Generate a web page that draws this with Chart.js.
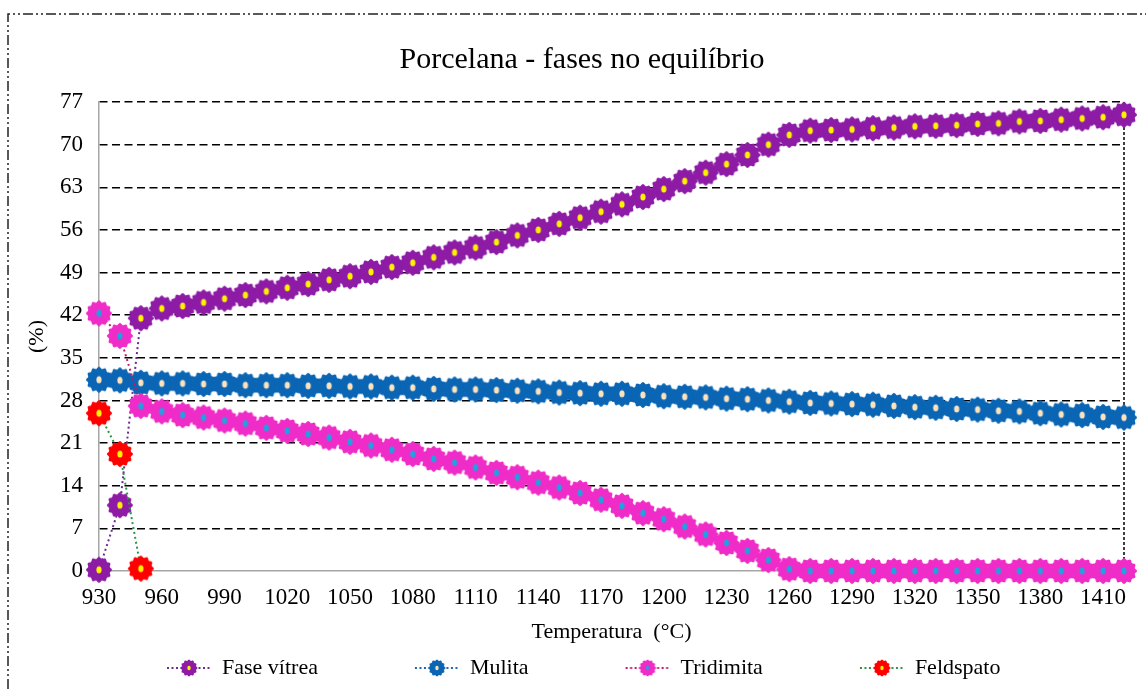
<!DOCTYPE html>
<html>
<head>
<meta charset="utf-8">
<title>Porcelana - fases no equilíbrio</title>
<script src="https://cdn.jsdelivr.net/npm/chart.js@4.4.1/dist/chart.umd.min.js"></script>
<style>
    html, body { margin: 0; padding: 0; background: #fff; }
    #wrap { width: 1146px; height: 689px; }
</style>
</head>
<body>
<div id="wrap"><canvas id="phaseChart" width="1146" height="689"></canvas></div>
<script>
// Porcelana - fases no equilíbrio

const temperatures = [930, 940, 950, 960, 970, 980, 990, 1000, 1010, 1020,
    1030, 1040, 1050, 1060, 1070, 1080, 1090, 1100, 1110, 1120,
    1130, 1140, 1150, 1160, 1170, 1180, 1190, 1200, 1210, 1220,
    1230, 1240, 1250, 1260, 1270, 1280, 1290, 1300, 1310, 1320,
    1330, 1340, 1350, 1360, 1370, 1380, 1390, 1400, 1410, 1420];

const faseVitrea = [0.2, 10.8, 41.5, 43.1, 43.5, 44.1, 44.7, 45.3, 45.9, 46.5,
    47.1, 47.8, 48.4, 49.1, 49.9, 50.6, 51.5, 52.3, 53.1, 54.0,
    55.1, 56.0, 57.0, 58.0, 59.0, 60.2, 61.4, 62.7, 64.0, 65.4,
    66.8, 68.3, 70.0, 71.6, 72.3, 72.4, 72.5, 72.7, 72.8, 73.0,
    73.1, 73.2, 73.4, 73.5, 73.8, 73.9, 74.1, 74.3, 74.5, 74.9];

const mulita = [31.4, 31.3, 30.9, 30.8, 30.8, 30.7, 30.7, 30.5, 30.5, 30.5,
    30.4, 30.4, 30.3, 30.3, 30.1, 30.1, 29.9, 29.8, 29.8, 29.7,
    29.6, 29.5, 29.3, 29.2, 29.1, 29.1, 28.9, 28.7, 28.6, 28.5,
    28.3, 28.2, 28.0, 27.8, 27.6, 27.5, 27.4, 27.3, 27.1, 26.9,
    26.8, 26.6, 26.5, 26.3, 26.2, 25.9, 25.7, 25.6, 25.3, 25.2];

const tridimita = [42.3, 38.6, 27.1, 26.2, 25.6, 25.2, 24.7, 24.2, 23.5, 23.0,
    22.5, 21.9, 21.2, 20.6, 19.9, 19.2, 18.4, 17.8, 17.0, 16.1,
    15.4, 14.5, 13.7, 12.8, 11.7, 10.7, 9.5, 8.5, 7.3, 6.0,
    4.6, 3.3, 1.8, 0.3, 0, 0, 0, 0, 0, 0,
    0, 0, 0, 0, 0, 0, 0, 0, 0, 0];

const feldspato = [25.9, 19.2, 0.4];

const xTickValues = [930, 960, 990, 1020, 1050, 1080, 1110, 1140, 1170, 1200,
    1230, 1260, 1290, 1320, 1350, 1380, 1410];
const yTickValues = [0, 7, 14, 21, 28, 35, 42, 49, 56, 63, 70, 77];

const seriesNames = ['Fase vítrea', 'Mulita', 'Tridimita', 'Feldspato'];

// marker styles: fill, centre dot, dotted line colour
const styles = [
    { fill: '#8E1BA6', dot: '#FFF200', line: '#6A2C93' },
    { fill: '#0A66B4', dot: '#FDE2BE', line: '#1D62AE' },
    { fill: '#F02CC8', dot: '#1CA3E0', line: '#C4166A' },
    { fill: '#FF0000', dot: '#FFF200', line: '#2A9442' }
];

Chart.defaults.font.family = "'Liberation Serif', 'Times New Roman', serif";
Chart.defaults.color = '#000';

// round "gear" marker with small bumps and a centre dot
function drawFlower(g, cx, cy, r, fill, dot) {
    g.beginPath();
    const steps = 120;
    for (let i = 0; i <= steps; i++) {
        const a = i / steps * Math.PI * 2;
        const rr = r * (0.93 + 0.07 * Math.cos(12 * a));
        const px = cx + rr * Math.cos(a);
        const py = cy + rr * Math.sin(a);
        if (i === 0) g.moveTo(px, py); else g.lineTo(px, py);
    }
    g.closePath();
    g.fillStyle = fill;
    g.fill();
    g.beginPath();
    g.ellipse(cx, cy, r * 0.2, r * 0.27, 0, 0, Math.PI * 2);
    g.fillStyle = dot;
    g.fill();
}

function makeMarker(st, r) {
    const size = Math.ceil(r * 2 + 2);
    const c = document.createElement('canvas');
    c.width = size;
    c.height = size;
    drawFlower(c.getContext('2d'), size / 2, size / 2, r, st.fill, st.dot);
    return c;
}

// legend icon: transparent lead-in, then dotted line through a small marker
const legendLead = 87;
const legendIconW = 131;
function makeLegendIcon(st) {
    const c = document.createElement('canvas');
    c.width = legendIconW;
    c.height = 20;
    const g = c.getContext('2d');
    g.strokeStyle = st.line;
    g.lineWidth = 2;
    g.setLineDash([2, 2.5]);
    g.beginPath();
    g.moveTo(legendLead, 10);
    g.lineTo(legendIconW, 10);
    g.stroke();
    g.setLineDash([]);
    drawFlower(g, legendLead + 22, 10, 8.5, st.fill, st.dot);
    return c;
}

const markers = styles.map(st => makeMarker(st, 13));
const legendIcons = styles.map(st => makeLegendIcon(st));

const seriesValues = [faseVitrea, mulita, tridimita, feldspato];

const datasets = seriesValues.map((vals, i) => ({
    label: seriesNames[i],
    data: vals.map((v, j) => ({ x: temperatures[j], y: v })),
    borderColor: styles[i].line,
    borderWidth: 2,
    borderDash: [2, 3],
    pointStyle: markers[i],
    pointRadius: 13,
    pointHoverRadius: 13,
    backgroundColor: styles[i].fill,
    tension: 0,
    clip: false,
    order: seriesValues.length - i
}));

const framePlugin = {
    id: 'framePlugin',
    afterUpdate(chart) {
        // line the legend up with the reference
        const lg = chart.legend;
        if (!lg || !lg.legendHitBoxes || !lg.legendHitBoxes.length) return;
        const dx = 167 - legendLead - lg.legendHitBoxes[0].left;
        lg.left += dx;
        lg.right += dx;
        lg.legendHitBoxes.forEach(b => { b.left += dx; });
    },
    beforeDraw(chart) {
        const ctx = chart.ctx;
        ctx.save();
        ctx.strokeStyle = '#222';
        ctx.lineWidth = 1.5;
        ctx.setLineDash([10, 3, 2, 3, 2, 3]);
        ctx.beginPath();
        ctx.moveTo(8, chart.height);
        ctx.lineTo(8, 14);
        ctx.lineTo(chart.width, 14);
        ctx.stroke();
        ctx.restore();
    },
    beforeDatasetsDraw(chart) {
        const { ctx, chartArea } = chart;
        ctx.save();
        ctx.strokeStyle = '#000';
        ctx.lineWidth = 1.5;
        ctx.setLineDash([3, 2]);
        ctx.beginPath();
        ctx.moveTo(chartArea.right, chartArea.top);
        ctx.lineTo(chartArea.right, chartArea.bottom);
        ctx.stroke();
        ctx.restore();
    }
};

new Chart(document.getElementById('phaseChart'), {
    type: 'line',
    data: { datasets: datasets },
    options: {
        responsive: false,
        animation: false,
        devicePixelRatio: 1,
        layout: { padding: { left: 40, right: 22, top: 0, bottom: 0 } },
        plugins: {
            title: {
                display: true,
                text: 'Porcelana - fases no equilíbrio',
                color: '#000',
                font: { size: 30, weight: 'normal' },
                padding: { top: 42, bottom: 24 }
            },
            legend: {
                position: 'bottom',
                labels: {
                    usePointStyle: true,
                    pointStyleWidth: legendIconW,
                    padding: 10,
                    color: '#000',
                    font: { size: 22 },
                    generateLabels: chart => chart.data.datasets.map((ds, i) => ({
                        text: ds.label,
                        pointStyle: legendIcons[i],
                        datasetIndex: i,
                        fontColor: '#000',
                        fillStyle: 'rgba(0,0,0,0)',
                        strokeStyle: 'rgba(0,0,0,0)',
                        lineWidth: 0,
                        hidden: !chart.isDatasetVisible(i)
                    }))
                }
            },
            tooltip: { enabled: false }
        },
        scales: {
            x: {
                type: 'linear',
                min: temperatures[0],
                max: temperatures[temperatures.length - 1],
                afterBuildTicks: scale => { scale.ticks = xTickValues.map(v => ({ value: v })); },
                afterFit: scale => { scale.height = 76; },
                ticks: {
                    color: '#000',
                    font: { size: 23 },
                    padding: 13,
                    autoSkip: false,
                    maxRotation: 0,
                    callback: v => String(v)
                },
                grid: { display: false, drawTicks: false },
                border: { display: true, color: '#A6A6A6', width: 1.5 },
                title: {
                    display: true,
                    text: 'Temperatura  (°C)',
                    color: '#000',
                    font: { size: 22 },
                    padding: { top: 0, bottom: 2 }
                }
            },
            y: {
                type: 'linear',
                min: 0,
                max: 77,
                afterBuildTicks: scale => { scale.ticks = yTickValues.map(v => ({ value: v })); },
                afterFit: scale => { scale.width = 59; },
                ticks: {
                    color: '#000',
                    font: { size: 23 },
                    padding: 16,
                    callback: v => String(v)
                },
                grid: {
                    drawTicks: false,
                    lineWidth: 1.5,
                    color: c => (c.tick && c.tick.value === 0) ? 'rgba(0,0,0,0)' : '#000'
                },
                border: { display: true, color: '#A6A6A6', width: 1.5, dash: [8, 4.5] },
                title: {
                    display: true,
                    text: '(%)',
                    color: '#000',
                    font: { size: 22 },
                    padding: { top: -16, bottom: 0 }
                }
            }
        }
    },
    plugins: [framePlugin]
});
</script>
</body>
</html>
